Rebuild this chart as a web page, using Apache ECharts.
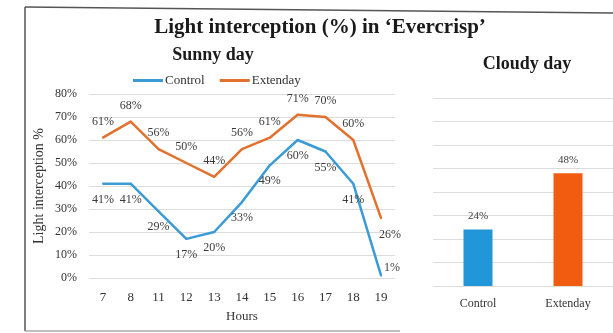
<!DOCTYPE html>
<html>
<head>
<meta charset="utf-8">
<script src="https://cdn.jsdelivr.net/npm/echarts@6/dist/echarts.min.js"></script>
<style>html,body{margin:0;padding:0;background:#fff;}#c{width:613px;height:333px;}</style>
</head>
<body>
<div id="c"></div>
<script>
const hours = ['7','8','11','12','13','14','15','16','17','18','19'];
const sunnyControl = [41,41,29,17,20,33,49,60,55,41,1];
const sunnyExtenday = [61,68,56,50,44,56,61,71,70,60,26];
const cloudyCategories = ['Control','Extenday'];
const cloudyValues = [24,48];
const yTicks = [0,10,20,30,40,50,60,70,80];

const serif = '"Liberation Serif", "DejaVu Serif", serif';
const txt = '#333333';
const blue = '#3a9bd5';
const orange = '#e2712d';
const barBlue = '#2196d8';
const barOrange = '#f25c10';

const ctrlLabels = sunnyControl.map((v, i) => ({
  value: v,
  label: i === sunnyControl.length - 1 ? { position: 'right', offset: [-7, -8] } : { position: 'bottom' }
}));
const extLabels = sunnyExtenday.map((v, i) => ({
  value: v,
  label: i === sunnyExtenday.length - 1 ? { position: 'bottom', offset: [9, 1] } : { position: 'top' }
}));

const chart = echarts.init(document.getElementById('c'));
chart.setOption({
  animation: false,
  backgroundColor: '#fff',
  textStyle: { fontFamily: serif },
  title: [
    { text: 'Light interception (%) in \u2018Evercrisp\u2019', left: 315, top: 12, textAlign: 'center',
      textStyle: { fontFamily: serif, fontSize: 21, fontWeight: 'bold', color: '#1a1a1a' } },
    { text: 'Sunny day', left: 208, top: 41, textAlign: 'center',
      textStyle: { fontFamily: serif, fontSize: 18, fontWeight: 'bold', color: '#1a1a1a' } },
    { text: 'Cloudy day', left: 522, top: 50, textAlign: 'center',
      textStyle: { fontFamily: serif, fontSize: 18, fontWeight: 'bold', color: '#1a1a1a' } }
  ],
  legend: {
    data: [
      { name: 'Control', icon: 'rect', itemStyle: { color: blue, opacity: 1 } },
      { name: 'Extenday', icon: 'rect', itemStyle: { color: orange, opacity: 1 } }
    ],
    left: 128, top: 69,
    itemWidth: 30, itemHeight: 3, itemGap: 15,
    textStyle: { fontFamily: serif, fontSize: 13, color: txt, padding: [0, 0, 0, -3] }
  },
  graphic: [
    { type: 'line', shape: { x1: 25, y1: 7, x2: 613, y2: 13 }, style: { stroke: '#555', lineWidth: 1.5 } },
    { type: 'line', shape: { x1: 25, y1: 7, x2: 25, y2: 331 }, style: { stroke: '#555', lineWidth: 1.5 } },
    { type: 'line', shape: { x1: 25, y1: 331, x2: 400, y2: 331 }, style: { stroke: '#aaa', lineWidth: 1.5 } }
  ],
  grid: [
    { left: 89, top: 94, width: 306, height: 184 },
    { left: 433, top: 98, width: 184, height: 188 }
  ],
  xAxis: [
    { type: 'category', gridIndex: 0, data: hours, boundaryGap: true,
      axisLine: { show: false }, axisTick: { show: false },
      axisLabel: { fontFamily: serif, fontSize: 13, color: txt, margin: 13 },
      name: 'Hours', nameLocation: 'middle', nameGap: 32,
      nameTextStyle: { fontFamily: serif, fontSize: 13, color: txt } },
    { type: 'category', gridIndex: 1, data: cloudyCategories,
      axisLine: { show: false }, axisTick: { show: false },
      axisLabel: { fontFamily: serif, fontSize: 12, color: txt, margin: 12 } }
  ],
  yAxis: [
    { type: 'value', gridIndex: 0, min: yTicks[0], max: yTicks[yTicks.length - 1], interval: 10,
      axisLine: { show: false }, axisTick: { show: false },
      axisLabel: { fontFamily: serif, fontSize: 12, color: txt, margin: 12, formatter: '{value}%' },
      splitLine: { lineStyle: { color: '#dcdcdc' } },
      name: 'Light interception %', nameLocation: 'middle', nameGap: 43, nameRotate: 90,
      nameTextStyle: { fontFamily: serif, fontSize: 14, color: txt } },
    { type: 'value', gridIndex: 1, min: 0, max: 80, interval: 10,
      axisLine: { show: false }, axisTick: { show: false },
      axisLabel: { show: false },
      splitLine: { lineStyle: { color: '#dcdcdc' } } }
  ],
  series: [
    { name: 'Control', type: 'line', xAxisIndex: 0, yAxisIndex: 0, data: ctrlLabels,
      symbol: 'circle', symbolSize: 2, showSymbol: true,
      lineStyle: { color: blue, width: 2.5 }, itemStyle: { color: blue },
      label: { show: true, formatter: '{c}%', fontFamily: serif, fontSize: 12, color: '#3a3a3a', distance: 9 } },
    { name: 'Extenday', type: 'line', xAxisIndex: 0, yAxisIndex: 0, data: extLabels,
      symbol: 'circle', symbolSize: 2, showSymbol: true,
      lineStyle: { color: orange, width: 2.5 }, itemStyle: { color: orange },
      label: { show: true, formatter: '{c}%', fontFamily: serif, fontSize: 12, color: '#3a3a3a', distance: 9 } },
    { name: 'Cloudy', type: 'bar', xAxisIndex: 1, yAxisIndex: 1, barWidth: 29,
      data: cloudyValues.map((v, i) => ({ value: v, itemStyle: { color: i === 0 ? barBlue : barOrange } })),
      label: { show: true, position: 'top', formatter: '{c}%', fontFamily: serif, fontSize: 11, color: '#3a3a3a', distance: 8 } }
  ]
});
</script>
</body>
</html>
